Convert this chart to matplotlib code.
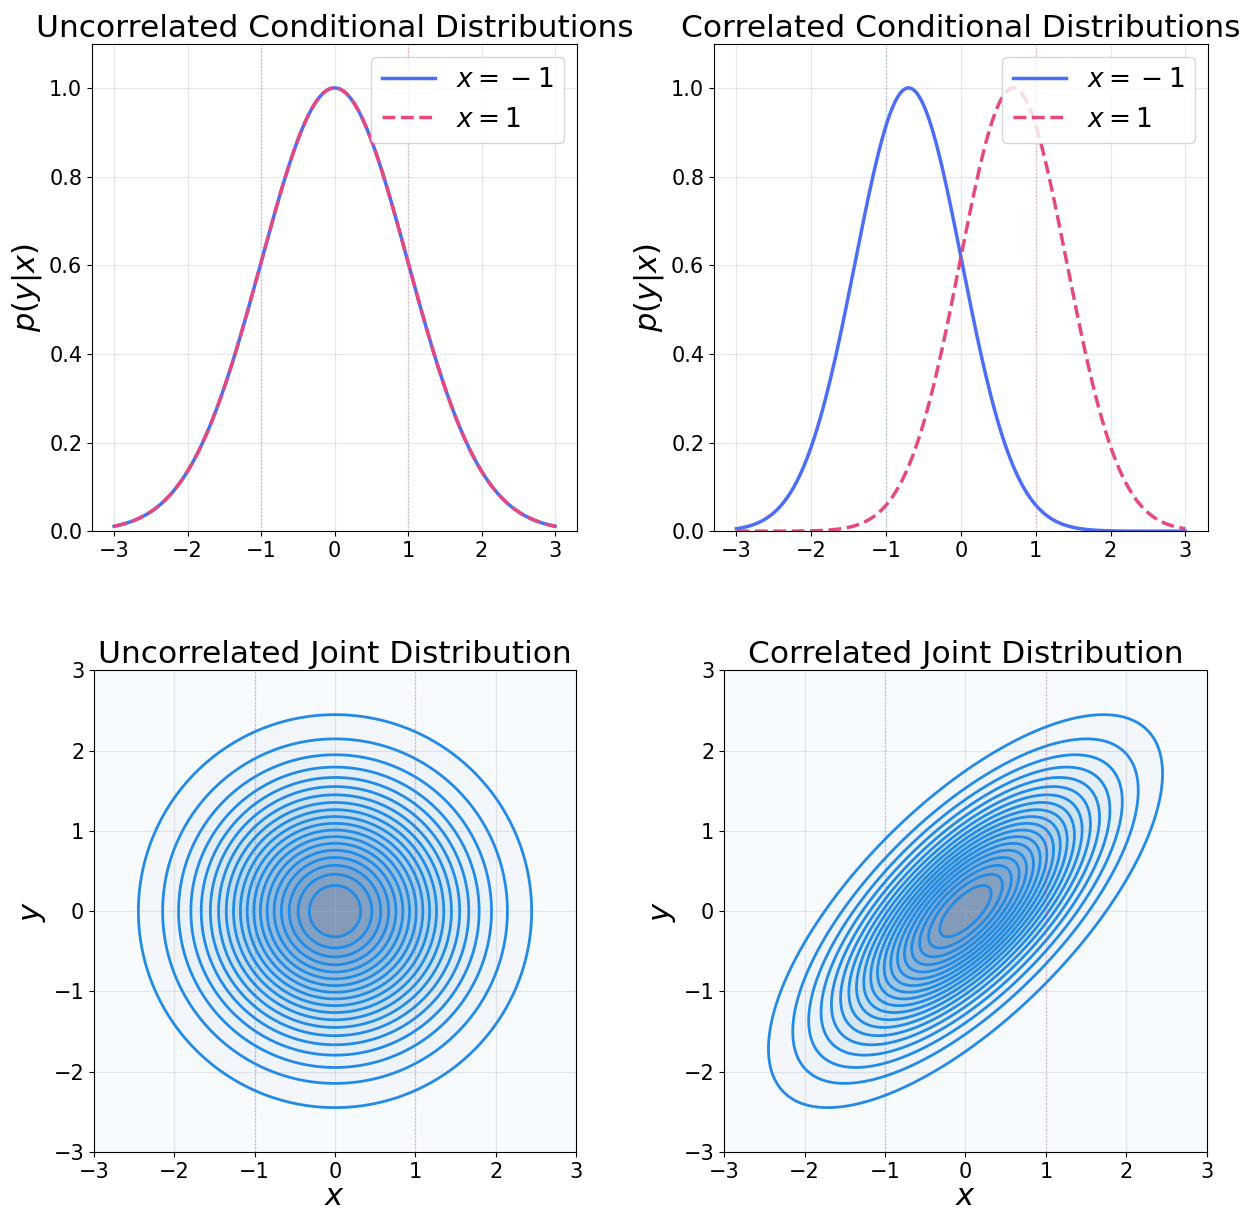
import numpy as np
import matplotlib
matplotlib.use('Agg')
import matplotlib.pyplot as plt

# conditioning values and correlation of each column
x_cond = [-1, 1]
cond_labels = [r'$x = {} - 1$', '$x = 1$']
rhos = [0.0, 0.7]
titles_top = ['Uncorrelated Conditional Distributions', 'Correlated Conditional Distributions']
titles_bot = ['Uncorrelated Joint Distribution', 'Correlated Joint Distribution']

c_blue = '#4c6ef5'
c_pink = '#e64980'
c_line = '#228be6'

fig = plt.figure(figsize=(12.47, 12.1), dpi=100)
ax_tl = fig.add_axes([0.0738, 0.561, 0.389, 0.403])
ax_tr = fig.add_axes([0.5726, 0.561, 0.396, 0.403])
ax_bl = fig.add_axes([0.0754, 0.048, 0.3865, 0.398])
ax_br = fig.add_axes([0.5806, 0.048, 0.3873, 0.398])

y = np.linspace(-3, 3, 400)
g = np.linspace(-3, 3, 300)
X, Y = np.meshgrid(g, g)

for ax, rho, t in zip([ax_tl, ax_tr], rhos, titles_top):
    s2 = 1 - rho**2
    p1 = np.exp(-(y - rho*x_cond[0])**2/(2*s2))
    p2 = np.exp(-(y - rho*x_cond[1])**2/(2*s2))
    ax.plot(y, p1, color=c_blue, lw=2.5, label=cond_labels[0])
    ax.plot(y, p2, color=c_pink, lw=2.5, ls='--', label=cond_labels[1])
    ax.axvline(x_cond[0], color=c_blue, ls=':', lw=1, alpha=0.4)
    ax.axvline(x_cond[1], color=c_pink, ls=':', lw=1, alpha=0.4)
    ax.set_ylim(0, 1.1)
    ax.set_title(t, fontsize=22.5, pad=5)
    ax.set_ylabel('$p(y|x)$', fontsize=22)
    ax.tick_params(labelsize=15)
    ax.grid(True, alpha=0.3)
    ax.legend(fontsize=19, loc='upper right')

for ax, rho, t in zip([ax_bl, ax_br], rhos, titles_bot):
    s2 = 1 - rho**2
    Z = np.exp(-(X**2 - 2*rho*X*Y + Y**2)/(2*s2))
    ax.contourf(X, Y, Z, levels=20, cmap='Blues', alpha=0.5)
    ax.contour(X, Y, Z, levels=20, colors=c_line, linewidths=2)
    ax.axvline(x_cond[0], color=c_blue, ls=':', lw=1, alpha=0.4)
    ax.axvline(x_cond[1], color=c_pink, ls=':', lw=1, alpha=0.4)
    ax.set_xlim(-3, 3)
    ax.set_ylim(-3, 3)
    ax.set_title(t, fontsize=22.5, pad=5)
    ax.set_xlabel('$x$', fontsize=22, labelpad=0)
    ax.set_ylabel('$y$', fontsize=22)
    ax.tick_params(labelsize=15)
    ax.grid(True, alpha=0.3)

fig.savefig('out.png', dpi=100)
